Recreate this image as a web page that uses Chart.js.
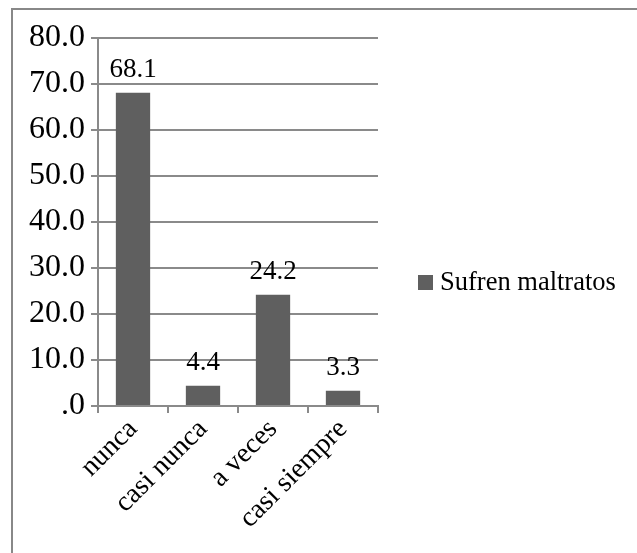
<!DOCTYPE html>
<html>
<head>
<meta charset="utf-8">
<script src="https://cdn.jsdelivr.net/npm/chart.js@4/dist/chart.umd.min.js"></script>
<style>
  body { margin: 0; background: #fff; }
  #wrap { position: relative; width: 637px; height: 553px; overflow: hidden; }
  #frame { position: absolute; left: 11px; top: 8px; width: 700px; height: 600px;
           border-left: 2px solid #888; border-top: 2px solid #888; }
  canvas { position: absolute; left: 0; top: 0; }
</style>
</head>
<body>
<div id="wrap">
  <div id="frame"></div>
  <canvas id="grafico"></canvas>
</div>
<script>
// datos
const categorias = ["nunca", "casi nunca", "a veces", "casi siempre"];
const valores = [68.1, 4.4, 24.2, 3.3];
const serie = "Sufren maltratos";
const yMin = 0, yMax = 80, yPaso = 10;

const fuente = "'Liberation Serif', 'Times New Roman', serif";
const gris = "#5f5f5f";
const lineas = "#8a8a8a";

function fmt(v) {
  return v.toFixed(1).replace(/^0\./, ".");
}

// etiquetas encima de cada barra
const etiquetas = {
  id: "etiquetas",
  afterDatasetsDraw(chart) {
    const ctx = chart.ctx;
    const meta = chart.getDatasetMeta(0);
    ctx.save();
    ctx.font = "27px " + fuente;
    ctx.fillStyle = "#000";
    ctx.textAlign = "center";
    ctx.textBaseline = "alphabetic";
    meta.data.forEach(function (bar, i) {
      ctx.fillText(valores[i].toFixed(1), bar.x, bar.y - 16);
    });
    ctx.restore();
  }
};

// leyenda a la derecha
const leyenda = {
  id: "leyenda",
  afterDraw(chart) {
    const ctx = chart.ctx;
    const ds = chart.data.datasets[0];
    const x = chart.chartArea.right + 40;
    const y = 282;
    ctx.save();
    ctx.fillStyle = ds.backgroundColor;
    ctx.fillRect(x, y - 7, 15, 15);
    ctx.font = "26.5px " + fuente;
    ctx.fillStyle = "#000";
    ctx.textBaseline = "middle";
    ctx.fillText(ds.label, x + 22, y + 1);
    ctx.restore();
  }
};

new Chart(document.getElementById("grafico"), {
  type: "bar",
  data: {
    labels: categorias,
    datasets: [{
      label: serie,
      data: valores,
      backgroundColor: gris,
      barPercentage: 1,
      categoryPercentage: 0.49
    }]
  },
  options: {
    responsive: true,
    maintainAspectRatio: false,
    animation: false,
    layout: { padding: { top: 38, right: 259, bottom: 0, left: 0 } },
    plugins: {
      legend: { display: false },
      tooltip: { enabled: false }
    },
    scales: {
      y: {
        min: yMin,
        max: yMax,
        ticks: {
          stepSize: yPaso,
          color: "#000",
          font: { family: fuente, size: 32 },
          padding: 6,
          callback: function (v) { return fmt(v); }
        },
        grid: { color: lineas, lineWidth: 2, tickLength: 7 },
        border: { color: lineas, width: 2 },
        afterFit: function (s) { s.width = 98; }
      },
      x: {
        ticks: {
          color: "#000",
          font: { family: fuente, size: 28 },
          minRotation: 45,
          maxRotation: 45,
          padding: 0
        },
        grid: { color: lineas, lineWidth: 2, drawOnChartArea: false, tickLength: 7, offset: true },
        border: { color: lineas, width: 2 },
        afterFit: function (s) { s.height = 147; }
      }
    }
  },
  plugins: [etiquetas, leyenda]
});
</script>
</body>
</html>
